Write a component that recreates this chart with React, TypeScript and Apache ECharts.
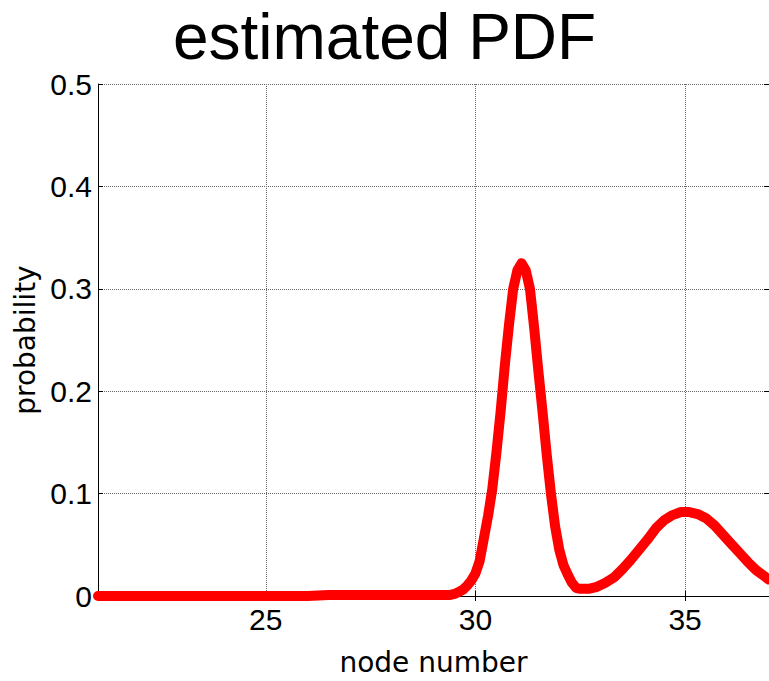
import React, { useEffect, useRef } from "react";
import * as echarts from "echarts";

const titleText = "estimated PDF";
const xName = "node number";
const yName = "probability";

const nodeNumber = [
  21, 22, 23, 24, 25, 26, 26.5, 27, 28, 29, 29.4, 29.5, 29.6, 29.7, 29.8, 29.9,
  30.0, 30.1, 30.2, 30.3, 30.4, 30.5, 30.6, 30.7, 30.8, 30.9, 31.0, 31.1, 31.2,
  31.3, 31.4, 31.5, 31.6, 31.7, 31.8, 31.9, 32.0, 32.1, 32.2, 32.3, 32.4, 32.5,
  32.7, 32.9, 33.1, 33.3, 33.5, 33.7, 33.9, 34.1, 34.3, 34.5, 34.7, 34.9, 35.1,
  35.3, 35.5, 35.7, 35.9, 36.1, 36.3, 36.5, 36.7, 36.9, 37.0,
];
const probability = [
  0, 0, 0, 0, 0, 0, 0.001, 0.001, 0.001, 0.001, 0.001, 0.002, 0.004, 0.006, 0.01, 0.015,
  0.022, 0.034, 0.056, 0.078, 0.104, 0.14, 0.18, 0.225, 0.265, 0.3, 0.318, 0.325, 0.318,
  0.3, 0.262, 0.22, 0.18, 0.138, 0.1, 0.068, 0.045, 0.03, 0.021, 0.013, 0.008, 0.007,
  0.007, 0.009, 0.013, 0.018, 0.026, 0.035, 0.045, 0.055, 0.066, 0.074, 0.079, 0.082, 0.082,
  0.08, 0.076, 0.069, 0.06, 0.051, 0.042, 0.033, 0.025, 0.019, 0.016,
];

const X_MIN = 21;
const X_MAX = 37;
const Y_MIN = 0;
const Y_MAX = 0.5;
const Y_STEP = 0.1;

export default function App() {
  const ref = useRef<HTMLDivElement>(null);
  useEffect(() => {
    if (!ref.current) return;
    const chart = echarts.init(ref.current, null, { renderer: "svg" });
    const labelFont = "'Liberation Sans', Arial, sans-serif";
    const nameFont = "'DejaVu Sans', sans-serif";
    const data = nodeNumber.map((x, i) => [x, probability[i]]);
    chart.setOption({
      animation: false,
      backgroundColor: "#ffffff",
      title: {
        text: titleText,
        left: "center",
        top: 5,
        padding: 0,
        textStyle: {
          fontFamily: labelFont,
          fontSize: 64,
          fontWeight: "normal",
          color: "#000",
        },
      },
      grid: { left: 98, right: -1, top: 84, bottom: 77, containLabel: false },
      xAxis: [
        {
          type: "value",
          min: X_MIN,
          max: X_MAX,
          splitNumber: 3,
          name: xName,
          nameLocation: "middle",
          nameGap: 52,
          nameTextStyle: { fontFamily: nameFont, fontSize: 28, color: "#000" },
          axisLine: { show: true, lineStyle: { color: "#000", width: 1 } },
          axisTick: { show: true, inside: true, length: 5, lineStyle: { color: "#000" } },
          axisLabel: {
            margin: 8,
            fontFamily: labelFont,
            fontSize: 30,
            color: "#000",
            showMinLabel: false,
            showMaxLabel: false,
            formatter: (v: number) => (v % 5 === 0 ? String(v) : ""),
          },
          splitLine: {
            show: true,
            lineStyle: { color: "#666", type: "dotted", width: 1 },
          },
        },
        {
          type: "value",
          position: "top",
          min: X_MIN,
          max: X_MAX,
          splitNumber: 3,
          axisLine: { show: true, lineStyle: { color: "#000", width: 1 } },
          axisTick: { show: true, inside: true, length: 5, lineStyle: { color: "#000" } },
          axisLabel: { show: false },
          splitLine: { show: false },
        },
      ],
      yAxis: [
        {
          type: "value",
          min: Y_MIN,
          max: Y_MAX,
          interval: Y_STEP,
          name: yName,
          nameLocation: "middle",
          nameGap: 52,
          nameTextStyle: { fontFamily: nameFont, fontSize: 28, color: "#000" },
          axisLine: { show: true, lineStyle: { color: "#000", width: 1 } },
          axisTick: { show: true, inside: true, length: 5, lineStyle: { color: "#000" } },
          axisLabel: {
            margin: 6,
            fontFamily: labelFont,
            fontSize: 30,
            color: "#000",
          },
          splitLine: {
            show: true,
            lineStyle: { color: "#666", type: "dotted", width: 1 },
          },
        },
        {
          type: "value",
          position: "right",
          min: Y_MIN,
          max: Y_MAX,
          interval: Y_STEP,
          axisLine: { show: true, lineStyle: { color: "#000", width: 1 } },
          axisTick: { show: true, inside: true, length: 5, lineStyle: { color: "#000" } },
          axisLabel: { show: false },
          splitLine: { show: false },
        },
      ],
      series: [
        {
          type: "line",
          xAxisIndex: 0,
          yAxisIndex: 0,
          data,
          showSymbol: false,
          symbol: "none",
          smooth: false,
          clip: false,
          lineStyle: { color: "#ff0000", width: 10, join: "round", cap: "round" },
          z: 5,
        },
      ],
    });
    return () => chart.dispose();
  }, []);
  return (
    <div
      ref={ref}
      style={{ position: "fixed", left: 0, top: 0, width: 769, height: 681, background: "#fff" }}
    />
  );
}
